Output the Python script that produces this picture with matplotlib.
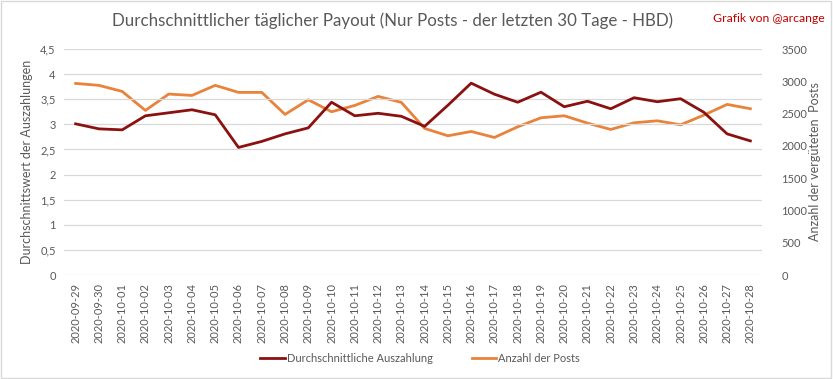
import matplotlib
matplotlib.use("Agg")
import matplotlib.pyplot as plt
from matplotlib.patches import Rectangle
from matplotlib.lines import Line2D

plt.rcParams['font.family'] = ['Lato', 'DejaVu Sans']

dates = ["2020-09-29", "2020-09-30", "2020-10-01", "2020-10-02", "2020-10-03", "2020-10-04",
         "2020-10-05", "2020-10-06", "2020-10-07", "2020-10-08", "2020-10-09", "2020-10-10",
         "2020-10-11", "2020-10-12", "2020-10-13", "2020-10-14", "2020-10-15", "2020-10-16",
         "2020-10-17", "2020-10-18", "2020-10-19", "2020-10-20", "2020-10-21", "2020-10-22",
         "2020-10-23", "2020-10-24", "2020-10-25", "2020-10-26", "2020-10-27", "2020-10-28"]
avg_payout = [3.01, 2.91, 2.89, 3.17, 3.23, 3.29, 3.19, 2.54, 2.66, 2.81, 2.93, 3.44,
              3.17, 3.22, 3.16, 2.96, 3.38, 3.82, 3.60, 3.44, 3.64, 3.35, 3.46, 3.31,
              3.53, 3.45, 3.51, 3.24, 2.81, 2.67]
post_count = [2967, 2937, 2843, 2549, 2802, 2781, 2937, 2828, 2828, 2487, 2714, 2528,
              2626, 2766, 2673, 2270, 2156, 2223, 2130, 2295, 2435, 2466, 2352, 2254,
              2357, 2388, 2326, 2476, 2642, 2575]
left_ticks = [0, 0.5, 1, 1.5, 2, 2.5, 3, 3.5, 4, 4.5]
left_labels = ["0", "0,5", "1", "1,5", "2", "2,5", "3", "3,5", "4", "4,5"]
right_ticks = [0, 500, 1000, 1500, 2000, 2500, 3000, 3500]

RED = '#8B1111'
ORANGE = '#E9823A'
GRAY = '#595959'
GRID = '#D9D9D9'

fig = plt.figure(figsize=(8.33, 3.79), dpi=100)
fig.patches.append(Rectangle((0.001, 0.002), 0.997, 0.995, transform=fig.transFigure,
                             fill=False, edgecolor='#D9D9D9', linewidth=1.0))
ax = fig.add_axes([64/833, 1-275/379, (762-64)/833, (275-49)/379])
ax2 = ax.twinx()

x = list(range(len(dates)))
ax.plot(x, avg_payout, color=RED, linewidth=2.0, zorder=3)
ax2.plot(x, post_count, color=ORANGE, linewidth=2.0, zorder=2)
ax.set_zorder(ax2.get_zorder() + 1)
ax.patch.set_visible(False)

ax.set_xlim(-0.5, len(dates) - 0.5)
ax.set_ylim(0, 4.5)
ax2.set_ylim(0, 3500)
ax.set_yticks(left_ticks)
ax.set_yticklabels(left_labels)
ax2.set_yticks(right_ticks)
ax.set_xticks(x)
ax.set_xticklabels(dates, rotation=90)

for a in (ax, ax2):
    for s in a.spines.values():
        s.set_visible(False)
    a.tick_params(length=0, colors=GRAY, labelsize=8)
ax.tick_params(axis='y', pad=6)
ax2.tick_params(axis='y', pad=14)
ax.tick_params(axis='x', pad=6)
ax.grid(axis='y', color=GRID, linewidth=0.9)
ax.set_axisbelow(True)

ax.set_ylabel("Durchschnittswert der Auszahlungen", color=GRAY, fontsize=9, labelpad=5)
ax2.set_ylabel("Anzahl der vergüteten  Posts", color=GRAY, fontsize=9, labelpad=1)

fig.text(393/833, 1-21/379, "Durchschnittlicher täglicher Payout (Nur Posts - der letzten 30 Tage - HBD)",
         ha='center', va='center', fontsize=12.2, color=GRAY)
fig.text(825/833, 1-18/379, "Grafik von @arcange", ha='right', va='center', fontsize=8.8, color='#C00000')

handles = [Line2D([0], [0], color=RED, linewidth=2), Line2D([0], [0], color=ORANGE, linewidth=2)]
leg = fig.legend(handles, ["Durchschnittliche Auszahlung", "Anzahl der Posts"], loc='center',
                 bbox_to_anchor=(420/833, 1-358/379), ncol=2, frameon=False, fontsize=8,
                 handlelength=2.2, handletextpad=0.2, columnspacing=3.5)
for t in leg.get_texts():
    t.set_color(GRAY)

fig.savefig("out.png", dpi=100)
